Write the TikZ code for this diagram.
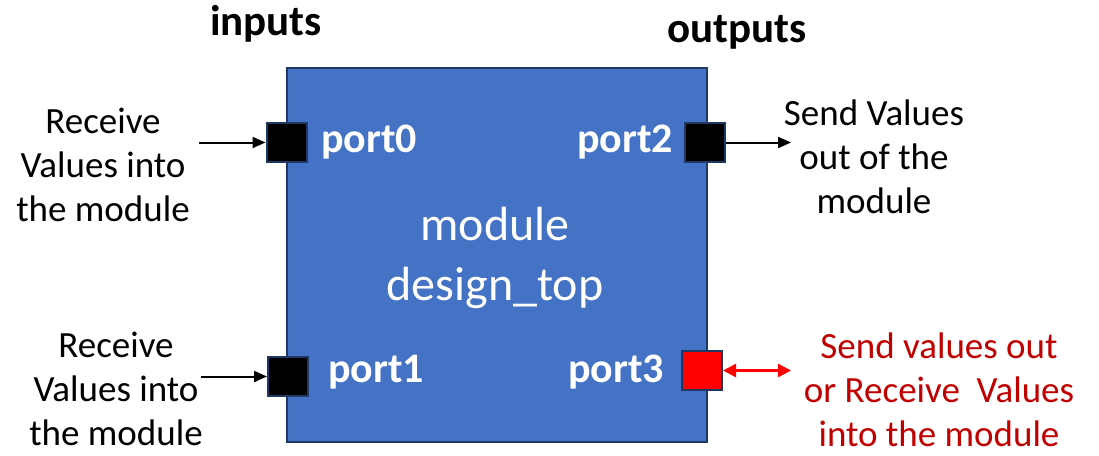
\documentclass[tikz,border=0pt]{standalone}
\usepackage{fontspec}
\setmainfont{Carlito}
\usetikzlibrary{arrows.meta}
\definecolor{modfill}{HTML}{4472C4}
\definecolor{modedge}{HTML}{1F3864}
\definecolor{darkred}{HTML}{C00000}
\tikzset{
  portbox/.style={draw=modedge, line width=2pt, minimum width=40pt, minimum height=39pt, inner sep=0pt},
  portlbl/.style={text=white, font=\fontsize{42}{48}\selectfont\bfseries},
  desc/.style={align=center, font=\fontsize{37}{44}\selectfont},
  hdr/.style={font=\fontsize{43}{48}\selectfont\bfseries},
  conn/.style={line width=2pt, -{Triangle[length=13pt,width=11pt]}},
}
\begin{document}
\begin{tikzpicture}[x=1pt,y=-1pt]
\useasboundingbox (0,0) rectangle (1099,455);
\node[draw=modedge, fill=modfill, line width=2pt, minimum width=420pt, minimum height=374pt, inner sep=0pt] (mod) at (496.5,254.5) {};
\node[text=white, align=center, font=\fontsize{48}{60}\selectfont] (modtxt) at (495,258) {module\\design\_top};
\node[portbox, fill=black] (p0) at (286.5,142.5) {};
\node[portbox, fill=black] (p1) at (288,376.5) {};
\node[portbox, fill=black] (p2) at (704.5,142.5) {};
\node[portbox, fill=red] (p3) at (702,370.5) {};
\node[portlbl] (l0) at (369,142) {port0};
\node[portlbl] (l1) at (376,372) {port1};
\node[portlbl] (l2) at (625,142) {port2};
\node[portlbl] (l3) at (616,372) {port3};
\node[hdr] (hin) at (266,24) {inputs};
\node[hdr] (hout) at (737,32) {outputs};
\node[desc] (d0) at (103,165) {Receive\\Values into\\the module};
\node[desc] (d1) at (116,389) {Receive\\Values into\\the module};
\node[desc] (d2) at (874,157) {Send Values\\out of the\\module};
\node[desc, text=darkred, inner sep=0pt] (d3) at (939,390) {Send values out\\or Receive\ \ Values\\into the module};
\coordinate (a0) at (199,142.5);
\coordinate (a1) at (201,376.5);
\coordinate (a2) at (791,142.5);
\coordinate (a3) at (791,370.5);
\draw[conn] (a0) -- (p0.west);
\draw[conn] (a1) -- (p1.west);
\draw[conn] (p2.east) -- (a2);
\draw[line width=2.5pt, draw=red, {Triangle[length=13pt,width=13pt]}-{Triangle[length=13pt,width=13pt]}] (p3.east) -- (a3);
\end{tikzpicture}
\end{document}
